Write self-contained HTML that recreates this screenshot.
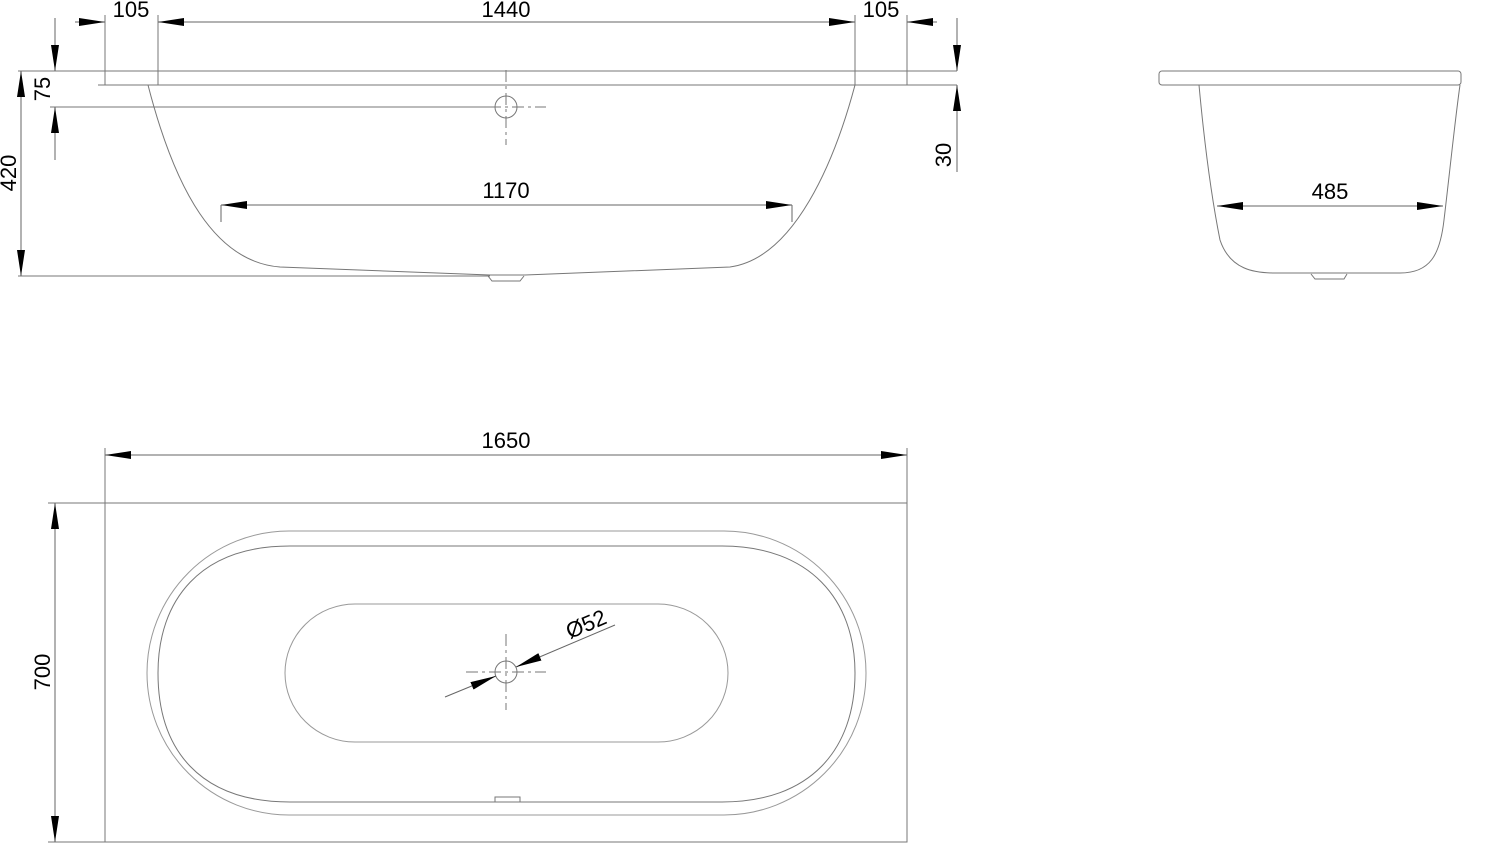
<!DOCTYPE html>
<html><head><style>body{margin:0;background:#fff}svg{display:block}text{font-family:"Liberation Sans",Arial,sans-serif;font-size:22px;fill:#000}</style></head><body>
<svg width="1500" height="843" viewBox="0 0 1500 843" xmlns="http://www.w3.org/2000/svg">
<defs>
<marker id="a" viewBox="0 0 26 8" refX="26" refY="4" markerWidth="26" markerHeight="8" markerUnits="userSpaceOnUse" orient="auto-start-reverse"><path d="M0,0L26,4L0,8z" fill="#000"/></marker>
</defs>
<g fill="none" stroke="#777" stroke-width="1">
<line x1="18" y1="71" x2="957" y2="71"/>
<line x1="98" y1="85" x2="907" y2="85"/>
<line x1="105" y1="71" x2="105" y2="85"/><line x1="907" y1="71" x2="907" y2="85"/>
<line x1="907" y1="85" x2="957" y2="85"/>
<line x1="105" y1="15" x2="105" y2="71"/><line x1="158" y1="15" x2="158" y2="85"/>
<line x1="855" y1="15" x2="855" y2="85"/><line x1="907" y1="15" x2="907" y2="71"/>
<line x1="50" y1="107" x2="490" y2="107"/>
<line x1="18" y1="276" x2="490" y2="276"/>
<path d="M148,85 C175,190 215,262 280,267 L490,275 L525,275 L730,267 C795,258 835,160 855,85"/>
<path d="M488,276 L492,281 L520,281 L524,276"/>
<circle cx="506" cy="107" r="11"/>
<line x1="506" y1="70" x2="506" y2="145" stroke-dasharray="12,4,3,4"/>
<line x1="466" y1="107" x2="546" y2="107" stroke-dasharray="12,4,3,4"/>
<rect x="1159" y="71" width="302" height="14" rx="3"/>
<path d="M1199,85 C1205,150 1212,200 1220,240 C1230,270 1255,273 1275,273 L1400,273 C1430,273 1440,255 1444,220 C1450,170 1455,120 1460,85"/>
<path d="M1311,274 L1315,279 L1344,279 L1347,274"/>
<rect x="105" y="503" width="802" height="339"/>
<line x1="105" y1="448" x2="105" y2="503"/><line x1="907" y1="448" x2="907" y2="503"/>
<line x1="48" y1="503" x2="105" y2="503"/><line x1="48" y1="842" x2="105" y2="842"/>
<rect x="147" y="531" width="719" height="284" rx="142" ry="142" stroke="#999"/>
<path d="M290,546 L722,546 C810,546 855,600 855,673 C855,750 810,802 722,802 L290,802 C200,802 158,750 158,673 C158,600 200,546 290,546z"/>
<rect x="285" y="604" width="443" height="138" rx="70" ry="69" stroke="#999"/>
<circle cx="506" cy="672" r="11"/>
<line x1="506" y1="634" x2="506" y2="710" stroke-dasharray="12,4,3,4"/>
<line x1="466" y1="672" x2="546" y2="672" stroke-dasharray="12,4,3,4"/>
<rect x="495" y="797" width="25" height="5"/>
</g>
<g stroke="#666" stroke-width="1" fill="none">
<line x1="158" y1="22" x2="855" y2="22" marker-start="url(#a)" marker-end="url(#a)"/>
<line x1="75" y1="22" x2="105" y2="22" marker-end="url(#a)"/>
<line x1="937" y1="22" x2="907" y2="22" marker-end="url(#a)"/>
<line x1="55" y1="18" x2="55" y2="71" marker-end="url(#a)"/>
<line x1="55" y1="160" x2="55" y2="107" marker-end="url(#a)"/>
<line x1="21" y1="71" x2="21" y2="276" marker-start="url(#a)" marker-end="url(#a)"/>
<line x1="957" y1="18" x2="957" y2="71" marker-end="url(#a)"/>
<line x1="957" y1="172" x2="957" y2="85" marker-end="url(#a)"/>
<line x1="221" y1="205" x2="792" y2="205" marker-start="url(#a)" marker-end="url(#a)"/>
<line x1="221" y1="205" x2="221" y2="222"/><line x1="792" y1="205" x2="792" y2="222"/>
<line x1="1217" y1="206" x2="1443" y2="206" marker-start="url(#a)" marker-end="url(#a)"/>
<line x1="105" y1="455" x2="907" y2="455" marker-start="url(#a)" marker-end="url(#a)"/>
<line x1="55" y1="503" x2="55" y2="842" marker-start="url(#a)" marker-end="url(#a)"/>
<line x1="445" y1="697" x2="496" y2="676" marker-end="url(#a)"/>
<line x1="615" y1="625" x2="516" y2="667" marker-end="url(#a)"/>
</g>
<text x="131" y="17" text-anchor="middle">105</text>
<text x="506" y="17" text-anchor="middle">1440</text>
<text x="881" y="17" text-anchor="middle">105</text>
<text x="506" y="198" text-anchor="middle">1170</text>
<text x="1330" y="199" text-anchor="middle">485</text>
<text x="506" y="448" text-anchor="middle">1650</text>
<text transform="translate(50,89) rotate(-90)" text-anchor="middle">75</text>
<text transform="translate(16,173) rotate(-90)" text-anchor="middle">420</text>
<text transform="translate(951,155) rotate(-90)" text-anchor="middle">30</text>
<text transform="translate(50,672) rotate(-90)" text-anchor="middle">700</text>
<text transform="translate(589,631) rotate(-23)" text-anchor="middle">Ø52</text>
</svg>
</body></html>
